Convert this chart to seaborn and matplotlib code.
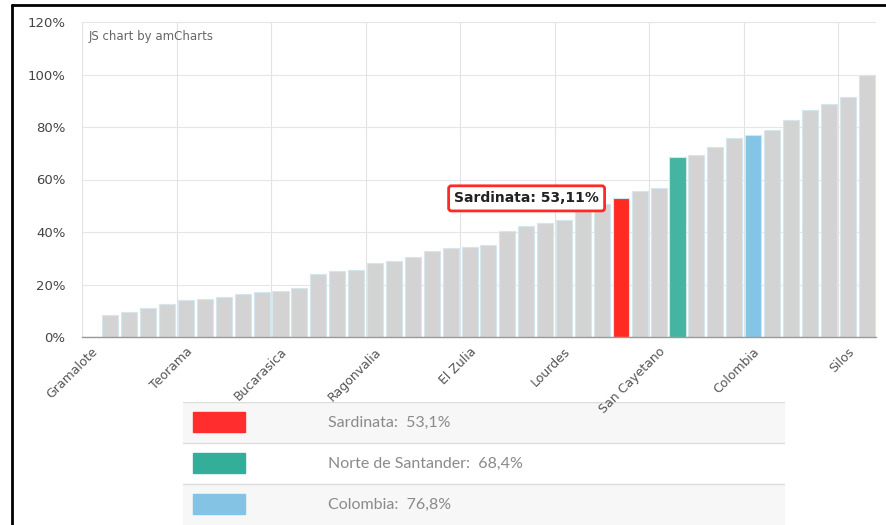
import matplotlib
matplotlib.use("Agg")
import matplotlib.pyplot as plt
import seaborn as sns
from matplotlib.lines import Line2D
from matplotlib.patches import Rectangle

# municipios ordered by value; only every 5th name is printed on the axis
municipios = [
    "Gramalote", "Cácota", "Mutiscua", "Labateca", "Chitagá",
    "Teorama", "Herrán", "Cucutilla", "Hacarí", "Santiago",
    "Bucarasica", "San Calixto", "Arboledas", "Toledo", "Pamplonita",
    "Ragonvalia", "Salazar", "Durania", "La Playa", "El Carmen",
    "El Zulia", "Villa Caro", "Bochalema", "Cáchira", "La Esperanza",
    "Lourdes", "Convención", "El Tarra", "Sardinata", "Puerto Santander",
    "San Cayetano", "Norte de Santander", "Ábrego", "Tibú", "Chinácota",
    "Colombia", "Ocaña", "Villa del Rosario", "Los Patios", "Cúcuta",
    "Silos", "Pamplona",
]
valores = [
    0.0, 8.2, 9.7, 11.0, 12.4,
    14.0, 14.5, 15.3, 16.3, 17.0,
    17.6, 18.7, 24.0, 25.1, 25.6,
    28.2, 29.0, 30.5, 32.8, 33.9,
    34.3, 35.1, 40.3, 42.4, 43.6,
    44.4, 49.2, 50.8, 53.11, 55.6,
    56.9, 68.4, 69.2, 72.3, 75.8,
    76.8, 78.7, 82.5, 86.4, 88.7,
    91.3, 100.0,
]

destacados = {"Sardinata": "#ff2a20", "Norte de Santander": "#45b4a0", "Colombia": "#84c4e6"}
leyenda = [("Sardinata", "53,1%"), ("Norte de Santander", "68,4%"), ("Colombia", "76,8%")]
leyenda_colores = ["#ff2d2d", "#33ae98", "#84c3e3"]

sns.set_style("white")
fig = plt.figure(figsize=(8.86, 5.25), dpi=100)
ax = fig.add_axes([82 / 886, 1 - 337 / 525, 794 / 886, 315 / 525])
ax.set_zorder(3)
ax.patch.set_alpha(0)

paleta = {m: destacados.get(m, "#d3d3d3") for m in municipios}
sns.barplot(x=municipios, y=valores, hue=municipios, palette=paleta, order=municipios,
            legend=False, width=0.85, saturation=1, edgecolor="#d4e6ee", linewidth=0.8,
            ax=ax, zorder=2)

ax.set_ylim(0, 120)
ax.set_xlim(-0.5, len(municipios) - 0.5)
ax.set_yticks(range(0, 121, 20))
ax.set_yticklabels([f"{v}%" for v in range(0, 121, 20)], fontsize=9.5, color="#444444")
ax.set_xticks(range(0, len(municipios), 5))
ax.set_xticklabels(municipios[::5], rotation=45, ha="right", rotation_mode="anchor",
                   fontsize=9, color="#555555")
ax.set_xticks([i - 0.5 for i in range(0, len(municipios), 5)], minor=True)
ax.tick_params(axis="x", which="major", length=4, color="#888888", pad=2)
ax.tick_params(axis="x", which="minor", length=0)
ax.tick_params(axis="y", length=0, pad=12)
ax.grid(axis="y", color="#e6e6e6", linewidth=0.8, zorder=0)
ax.grid(axis="x", which="minor", color="#e2e2e2", linewidth=0.8, zorder=0)
ax.grid(axis="x", which="major", visible=False)
ax.set_axisbelow(True)
ax.set_xlabel("")
ax.set_ylabel("")
for s in ["top", "right", "left"]:
    ax.spines[s].set_visible(False)
ax.spines["bottom"].set_color("#999999")
ax.spines["bottom"].set_linewidth(1)

ax.text(0.008, 0.955, "JS chart by amCharts", transform=ax.transAxes,
        fontsize=8.5, color="#666666", va="center", ha="left")

# tooltip for Sardinata
i_sar = municipios.index("Sardinata")
ax.annotate(f"Sardinata: {valores[i_sar]:.2f}%".replace(".", ","),
            xy=(i_sar - 1.15, valores[i_sar] - 0.3), ha="right", va="center",
            fontsize=10, fontweight="bold", color="#222222", zorder=6,
            bbox=dict(boxstyle="round,pad=0.4,rounding_size=0.2", fc="white",
                      ec="#ff2a27", lw=2))

# legend table
lg = fig.add_axes([183 / 886, 0, 602 / 886, 123 / 525])
lg.set_zorder(1)
lg.set_xlim(0, 1)
lg.set_ylim(0, 3)
lg.axis("off")
for k, ((nombre, val), col) in enumerate(zip(leyenda, leyenda_colores)):
    y0 = 2 - k
    fondo = "#f7f7f7" if k != 1 else "white"
    lg.add_patch(Rectangle((0, y0), 1, 1, color=fondo, zorder=0))
    lg.axhline(y0 + 1, color="#dddddd", lw=1, zorder=1)
    lg.add_patch(Rectangle((10 / 602, y0 + 0.27), 52 / 602, 0.48, color=col, zorder=2))
    lg.text(145 / 602, y0 + 0.5, f"{nombre}:  {val}", fontsize=11.5, color="#8a8a8a",
            family=["Lato", "DejaVu Sans"], va="center", ha="left")

# frame of the screenshot
fig.add_artist(Line2D([11.5 / 886, 11.5 / 886], [0, 1 - 5 / 525], color="black", lw=2))
fig.add_artist(Line2D([11.5 / 886, 1], [1 - 5 / 525, 1 - 5 / 525], color="black", lw=2))

fig.savefig("out.png", dpi=100)
